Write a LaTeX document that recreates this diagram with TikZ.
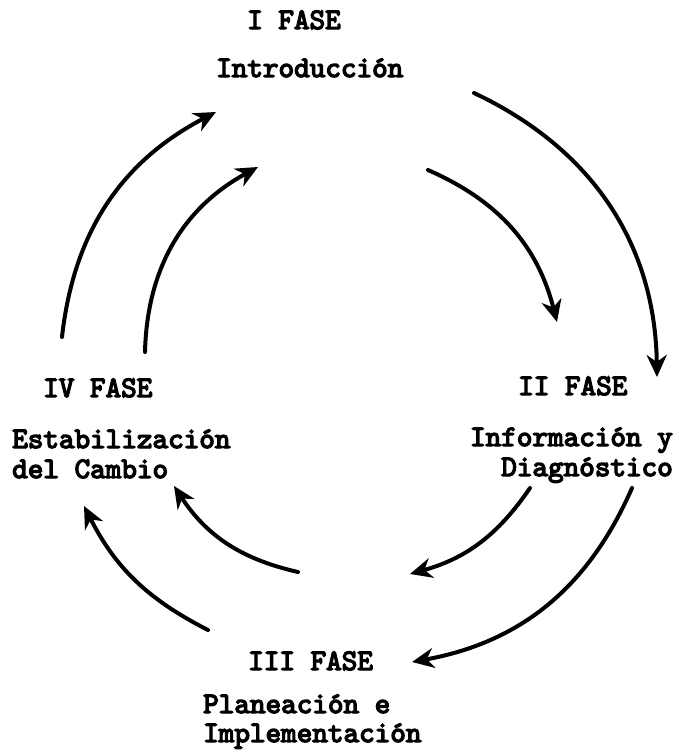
\documentclass[tikz,border=0pt]{standalone}
\usepackage{fontspec}
\usetikzlibrary{arrows.meta}
% heavy typewriter face: Latin Modern Mono, emboldened
\newfontfamily\typewriter{lmmono10-regular.otf}[FakeBold=4.5]
\begin{document}
\begin{tikzpicture}[x=1pt,y=1pt,
  phase/.style={font=\typewriter\fontsize{29.7}{29}\selectfont, inner sep=0pt, anchor=base west},
  flow/.style={line width=4pt, line cap=round,
    -{Stealth[length=22pt,width=20pt,inset=7pt]}}]
\useasboundingbox (0,0) rectangle (678,-755);

% phase labels
\node[phase] (f1)  at (247,-29)  {I FASE};
\node[phase] (f1t) at (216,-77)  {Introducción};

\node[phase] (f2)  at (518,-395) {II FASE};
\node[phase, anchor=base east] (f2a) at (673,-446) {Información y};
\node[phase, anchor=base east] (f2b) at (673,-476) {Diagnóstico};

\node[phase] (f3)  at (248,-670) {III FASE};
\node[phase] (f3a) at (203,-713) {Planeación e};
\node[phase] (f3b) at (203,-742) {Implementación};

\node[phase] (f4)  at (43,-397)  {IV FASE};
\node[phase] (f4a) at (12,-448)  {Estabilización};
\node[phase] (f4b) at (12,-478)  {del Cambio};

% arrow ends
\coordinate (a1s) at (474,-93);  \coordinate (a1e) at (657,-377);
\coordinate (a2s) at (428,-170); \coordinate (a2e) at (557,-322);
\coordinate (b1s) at (632,-488); \coordinate (b1e) at (412,-662);
\coordinate (b2s) at (530,-488); \coordinate (b2e) at (410,-574);
\coordinate (c1s) at (208,-630); \coordinate (c1e) at (84,-506);
\coordinate (c2s) at (298,-572); \coordinate (c2e) at (174,-486);
\coordinate (d1s) at (62,-337);  \coordinate (d1e) at (216,-112);
\coordinate (d2s) at (145,-352); \coordinate (d2e) at (258,-167);

% cycle arrows
\draw[flow] (a1s) to[bend left=32] (a1e);
\draw[flow] (a2s) to[bend left=26] (a2e);
\draw[flow] (b1s) to[bend left=28] (b1e);
\draw[flow] (b2s) to[bend left=20] (b2e);
\draw[flow] (c1s) to[bend left=18] (c1e);
\draw[flow] (c2s) to[bend left=22] (c2e);
\draw[flow] (d1s) to[bend left=28] (d1e);
\draw[flow] (d2s) to[bend left=30] (d2e);
\end{tikzpicture}
\end{document}
